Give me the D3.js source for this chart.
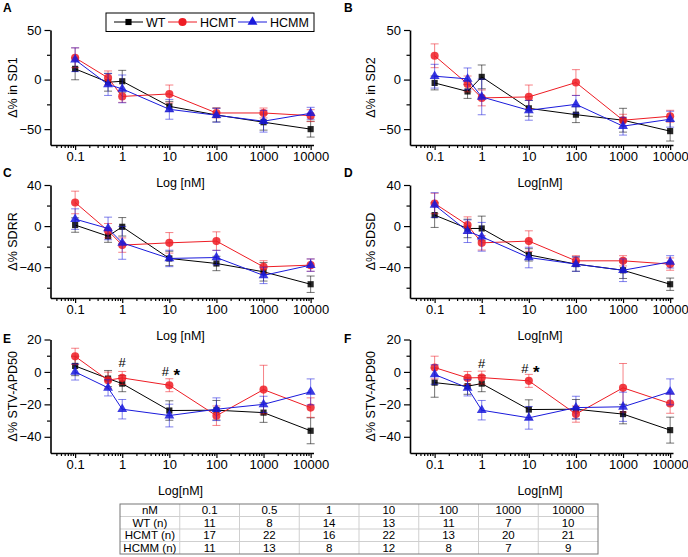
<!DOCTYPE html>
<html>
<head>
<meta charset="utf-8">
<script src="https://cdn.jsdelivr.net/npm/d3@7"></script>
<style>
  body { margin: 0; background: #fff; }
  svg { display: block; font-family: Arial, "Liberation Sans", sans-serif; }
</style>
</head>
<body>
<div id="chart"></div>
<script>
// concentrations (nM)
var conc = [0.1, 0.5, 1, 10, 100, 1000, 10000];
var groups = ["WT", "HCMT", "HCMM"];

// A - SD1
var sd1Wt = [10.8, -2.7, -1.7, -27, -35.7, -43, -50];
var sd1WtErr = [11, 9, 11, 5, 7, 8, 8];
var sd1Hcmt = [22, 1.7, -17, -14.5, -33.7, -33.7, -36.4];
var sd1HcmtErr = [10, 7, 6, 9, 5, 5, 6];
var sd1Hcmm = [20, -5, -9.4, -30, -36, -42, -34];
var sd1HcmmErr = [12, 11, 14, 10, 7, 11, 6];

// B - SD2
var sd2Wt = [-3.4, -12, 2.7, -29, -35.4, -41, -52];
var sd2WtErr = [7, 7, 12, 8, 8, 12, 10];
var sd2Hcmt = [24, -4.4, -18.5, -17.5, -3, -41, -37];
var sd2HcmtErr = [12, 8, 8, 12, 13, 6, 6];
var sd2Hcmm = [3.4, 0.7, -17.5, -31, -25, -47, -40];
var sd2HcmmErr = [12, 11, 18, 10, 9, 9, 8];

// C - SDRR
var sdrrWt = [1, -9.8, -0.7, -31.5, -36.4, -44.5, -56.6];
var sdrrWtErr = [7, 6, 9, 7, 7, 9, 8];
var sdrrHcmt = [23, -4.5, -18.5, -16.3, -14.6, -39.7, -38];
var sdrrHcmtErr = [11, 7, 7, 10, 9, 6, 6];
var sdrrHcmm = [6.8, -2.3, -16.3, -31.5, -30.6, -48, -38];
var sdrrHcmmErr = [10, 11, 16, 8, 7, 8, 6];

// D - SDSD
var sdsdWt = [10.7, -2.3, -2.3, -28, -37, -43, -56.6];
var sdsdWtErr = [12, 9, 12, 6, 7, 8, 6];
var sdsdHcmt = [22, 1, -16.3, -14.6, -33.8, -33.8, -37];
var sdsdHcmtErr = [10, 8, 7, 10, 5, 5, 6];
var sdsdHcmm = [20.5, -5, -10.4, -30.6, -37, -43, -34.8];
var sdsdHcmmErr = [12, 11, 14, 10, 7, 11, 6];

// E - STV-APD50
var apd50Wt = [3.7, -4.1, -7.2, -23.8, -23.6, -25.1, -36.3];
var apd50WtErr = [6, 5, 5, 6, 6, 6, 8];
var apd50Hcmt = [9.6, -5.1, -3.7, -8.2, -27, -10.9, -22];
var apd50HcmtErr = [5, 5, 4, 4, 6, 15, 6];
var apd50Hcmm = [0, -9.8, -23, -26.9, -23, -20, -12.3];
var apd50HcmmErr = [5, 5, 6, 7, 7, 5, 8];

// F - STV-APD90
var apd90Wt = [-6.6, -8.8, -7.2, -23.2, -23, -26, -35.9];
var apd90WtErr = [9, 5, 5, 6, 6, 6, 8];
var apd90Hcmt = [2.7, -3.7, -3.5, -5.5, -26, -9.8, -19.5];
var apd90HcmtErr = [7, 4, 4, 4, 5, 15, 6];
var apd90Hcmm = [-1.6, -9.8, -23.6, -28.3, -22, -21.5, -12.3];
var apd90HcmmErr = [6, 5, 6, 7, 7, 9, 8];

// significance marks (E, F): concentration, y value, symbol
var apd50Marks = [[1, 6.2, "#"], [10, 0.6, "#"], [10, 0.6, "*"]];
var apd90Marks = [[1, 5.6, "#"], [10, 2.3, "#"], [10, 2.3, "*"]];

// n table
var tableHead = ["nM", "0.1", "0.5", "1", "10", "100", "1000", "10000"];
var wtN = [11, 8, 14, 13, 11, 7, 10];
var hcmtN = [17, 22, 16, 22, 13, 20, 21];
var hcmmN = [11, 13, 8, 12, 8, 7, 9];

var colors = { WT: "#000000", HCMT: "#ee1c24", HCMM: "#1a1adc" };

var width = 688, height = 557;

const svg = d3
  .select("#chart")
  .append("svg")
  .attr("width", width)
  .attr("height", height);

// panel layout
var panels = [
  { letter: "A", col: 0, row: 0, ylab: "Δ% in SD1", xlab: "Log [nM]", data: [sd1Wt, sd1Hcmt, sd1Hcmm], err: [sd1WtErr, sd1HcmtErr, sd1HcmmErr] },
  { letter: "B", col: 1, row: 0, ylab: "Δ% in SD2", xlab: "Log[nM]", data: [sd2Wt, sd2Hcmt, sd2Hcmm], err: [sd2WtErr, sd2HcmtErr, sd2HcmmErr] },
  { letter: "C", col: 0, row: 1, ylab: "Δ% SDRR", xlab: "Log [nM]", data: [sdrrWt, sdrrHcmt, sdrrHcmm], err: [sdrrWtErr, sdrrHcmtErr, sdrrHcmmErr] },
  { letter: "D", col: 1, row: 1, ylab: "Δ% SDSD", xlab: "Log[nM]", data: [sdsdWt, sdsdHcmt, sdsdHcmm], err: [sdsdWtErr, sdsdHcmtErr, sdsdHcmmErr] },
  { letter: "E", col: 0, row: 2, ylab: "Δ% STV-APD50", xlab: "Log[nM]", data: [apd50Wt, apd50Hcmt, apd50Hcmm], err: [apd50WtErr, apd50HcmtErr, apd50HcmmErr], marks: apd50Marks },
  { letter: "F", col: 1, row: 2, ylab: "Δ% STV-APD90", xlab: "Log[nM]", data: [apd90Wt, apd90Hcmt, apd90Hcmm], err: [apd90WtErr, apd90HcmtErr, apd90HcmmErr], marks: apd90Marks }
];

var colX = [50.5, 410];
var rows = [
  { top: 30, bottom: 145, dom: [-66, 50], major: [-50, 0, 50], minor: [-25, 25], letterY: 12 },
  { top: 185, bottom: 298, dom: [-70, 40], major: [-40, 0, 40], minor: [-60, -20, 20], letterY: 177 },
  { top: 339.5, bottom: 453, dom: [-50, 20], major: [-40, -20, 0, 20], minor: [-30, -10, 10], letterY: 343 }
];

// minor log ticks
var minorX = [];
[0.01, 0.1, 1, 10, 100, 1000].forEach(function (dec) {
  for (var k = 2; k <= 9; k++) {
    var v = dec * k;
    if (v > 0.03 && v < 11500) minorX.push(v);
  }
});

var symbols = { WT: d3.symbolSquare, HCMT: d3.symbolCircle, HCMM: d3.symbolTriangle };
var symSize = { WT: 38, HCMT: 52, HCMM: 42 };

panels.forEach(function (p) {
  var r = rows[p.row];
  var x0 = colX[p.col];
  var x = d3.scaleLog().domain([0.03, 11500]).range([x0, x0 + 263]);
  var y = d3.scaleLinear().domain(r.dom).range([r.bottom, r.top]);
  var g = svg.append("g");

  // panel letter
  svg.append("text")
    .attr("x", p.col === 0 ? 3 : 344)
    .attr("y", r.letterY)
    .attr("font-size", 12)
    .attr("font-weight", "bold")
    .text(p.letter);

  // y axis
  g.append("g")
    .attr("transform", "translate(" + x0 + ",0)")
    .call(d3.axisLeft(y).tickValues(r.minor).tickSize(3.5).tickSizeOuter(0).tickFormat(""))
    .call(function (a) { a.select(".domain").remove(); });
  g.append("g")
    .attr("transform", "translate(" + x0 + ",0)")
    .call(d3.axisLeft(y).tickValues(r.major).tickSize(6).tickPadding(3).tickSizeOuter(0))
    .attr("font-size", 13)
    .attr("font-family", "Arial, 'Liberation Sans', sans-serif");

  // x axis
  g.append("g")
    .attr("transform", "translate(0," + r.bottom + ")")
    .call(d3.axisBottom(x).tickValues(minorX).tickSize(3).tickSizeOuter(0).tickFormat(""))
    .call(function (a) { a.select(".domain").remove(); });
  g.append("g")
    .attr("transform", "translate(0," + r.bottom + ")")
    .call(d3.axisBottom(x).tickValues(conc.filter(function (c) { return c !== 0.5; }))
      .tickSize(5).tickPadding(2).tickSizeOuter(0).tickFormat(d3.format("")))
    .attr("font-size", 13)
    .attr("font-family", "Arial, 'Liberation Sans', sans-serif");

  g.selectAll(".domain").attr("stroke-width", 1.6);
  g.selectAll(".tick line").attr("stroke-width", 1.2);

  // axis labels
  svg.append("text")
    .attr("x", x0 + 130)
    .attr("y", r.bottom + 42)
    .attr("text-anchor", "middle")
    .attr("font-size", 12.5)
    .text(p.xlab);
  svg.append("text")
    .attr("transform", "translate(" + (p.col === 0 ? 17 : 375) + "," + ((r.top + r.bottom) / 2) + ") rotate(-90)")
    .attr("text-anchor", "middle")
    .attr("font-size", 12.5)
    .text(p.ylab);

  // series
  groups.forEach(function (name, gi) {
    var vals = p.data[gi], errs = p.err[gi];
    var pts = conc.map(function (c, i) { return { c: c, v: vals[i], e: errs[i] }; });
    var s = svg.append("g").attr("class", "series");

    // error bars
    var eb = s.selectAll(".eb").data(pts).enter().append("g")
      .attr("stroke", colors[name])
      .attr("stroke-opacity", 0.55)
      .attr("stroke-width", 1);
    eb.append("line")
      .attr("x1", d => x(d.c)).attr("x2", d => x(d.c))
      .attr("y1", d => y(d.v - d.e)).attr("y2", d => y(d.v + d.e));
    eb.append("line")
      .attr("x1", d => x(d.c) - 4).attr("x2", d => x(d.c) + 4)
      .attr("y1", d => y(d.v + d.e)).attr("y2", d => y(d.v + d.e));
    eb.append("line")
      .attr("x1", d => x(d.c) - 4).attr("x2", d => x(d.c) + 4)
      .attr("y1", d => y(d.v - d.e)).attr("y2", d => y(d.v - d.e));

    // line
    s.append("path")
      .datum(pts)
      .attr("fill", "none")
      .attr("stroke", colors[name])
      .attr("stroke-width", 1)
      .attr("d", d3.line().x(d => x(d.c)).y(d => y(d.v)));

    // markers
    s.selectAll(".mk").data(pts).enter().append("path")
      .attr("transform", d => "translate(" + x(d.c) + "," + y(d.v) + ")")
      .attr("d", d3.symbol().type(symbols[name]).size(symSize[name]))
      .attr("fill", colors[name])
      .attr("fill-opacity", 0.85);
  });

  // significance marks
  if (p.marks) {
    svg.selectAll(null).data(p.marks).enter().append("text")
      .attr("x", d => x(d[0]) + (d[2] === "*" ? 7.5 : (d[0] === 10 ? -4 : 0)))
      .attr("y", d => y(d[1]) + (d[2] === "*" ? 10 : 5))
      .attr("text-anchor", "middle")
      .attr("font-size", d => d[2] === "*" ? 17 : 13)
      .attr("font-weight", d => d[2] === "*" ? "bold" : "normal")
      .text(d => d[2]);
  }
});

// legend
var leg = svg.append("g");
leg.append("rect")
  .attr("x", 106).attr("y", 13).attr("width", 208).attr("height", 18.5)
  .attr("fill", "#fff").attr("stroke", "#000").attr("stroke-width", 1);
var legX = [114, 168, 238];
groups.forEach(function (name, i) {
  var lx = legX[i];
  leg.append("line")
    .attr("x1", lx).attr("x2", lx + 29).attr("y1", 22).attr("y2", 22)
    .attr("stroke", colors[name]).attr("stroke-width", 1);
  leg.append("path")
    .attr("transform", "translate(" + (lx + 14.5) + ",22)")
    .attr("d", d3.symbol().type(symbols[name]).size(symSize[name]))
    .attr("fill", colors[name]);
  leg.append("text")
    .attr("x", lx + 32).attr("y", 26.5)
    .attr("font-size", 12.5)
    .text(name);
});

// n table
var tableRows = [tableHead, ["WT (n)"].concat(wtN), ["HCMT (n)"].concat(hcmtN), ["HCMM (n)"].concat(hcmmN)];
var tx = d3.scaleBand().domain(d3.range(8)).range([120, 598]);
var ty = d3.scaleBand().domain(d3.range(4)).range([504, 554]);
var tbl = svg.append("g");
d3.range(1, 8).forEach(function (i) {
  tbl.append("line")
    .attr("x1", tx(i)).attr("x2", tx(i)).attr("y1", 504).attr("y2", 554)
    .attr("stroke", "#cfcfcf");
});
d3.range(1, 4).forEach(function (i) {
  tbl.append("line")
    .attr("x1", 120).attr("x2", 598).attr("y1", ty(i)).attr("y2", ty(i))
    .attr("stroke", "#cfcfcf");
});
tbl.append("rect")
  .attr("x", 120).attr("y", 504).attr("width", 478).attr("height", 50)
  .attr("fill", "none").attr("stroke", "#777").attr("stroke-width", 1);
tableRows.forEach(function (row, ri) {
  tbl.selectAll(null).data(row).enter().append("text")
    .attr("x", (d, ci) => tx(ci) + tx.bandwidth() / 2)
    .attr("y", ty(ri) + ty.bandwidth() / 2 + 4)
    .attr("text-anchor", "middle")
    .attr("font-size", 11.5)
    .text(d => d);
});
</script>
</body>
</html>
